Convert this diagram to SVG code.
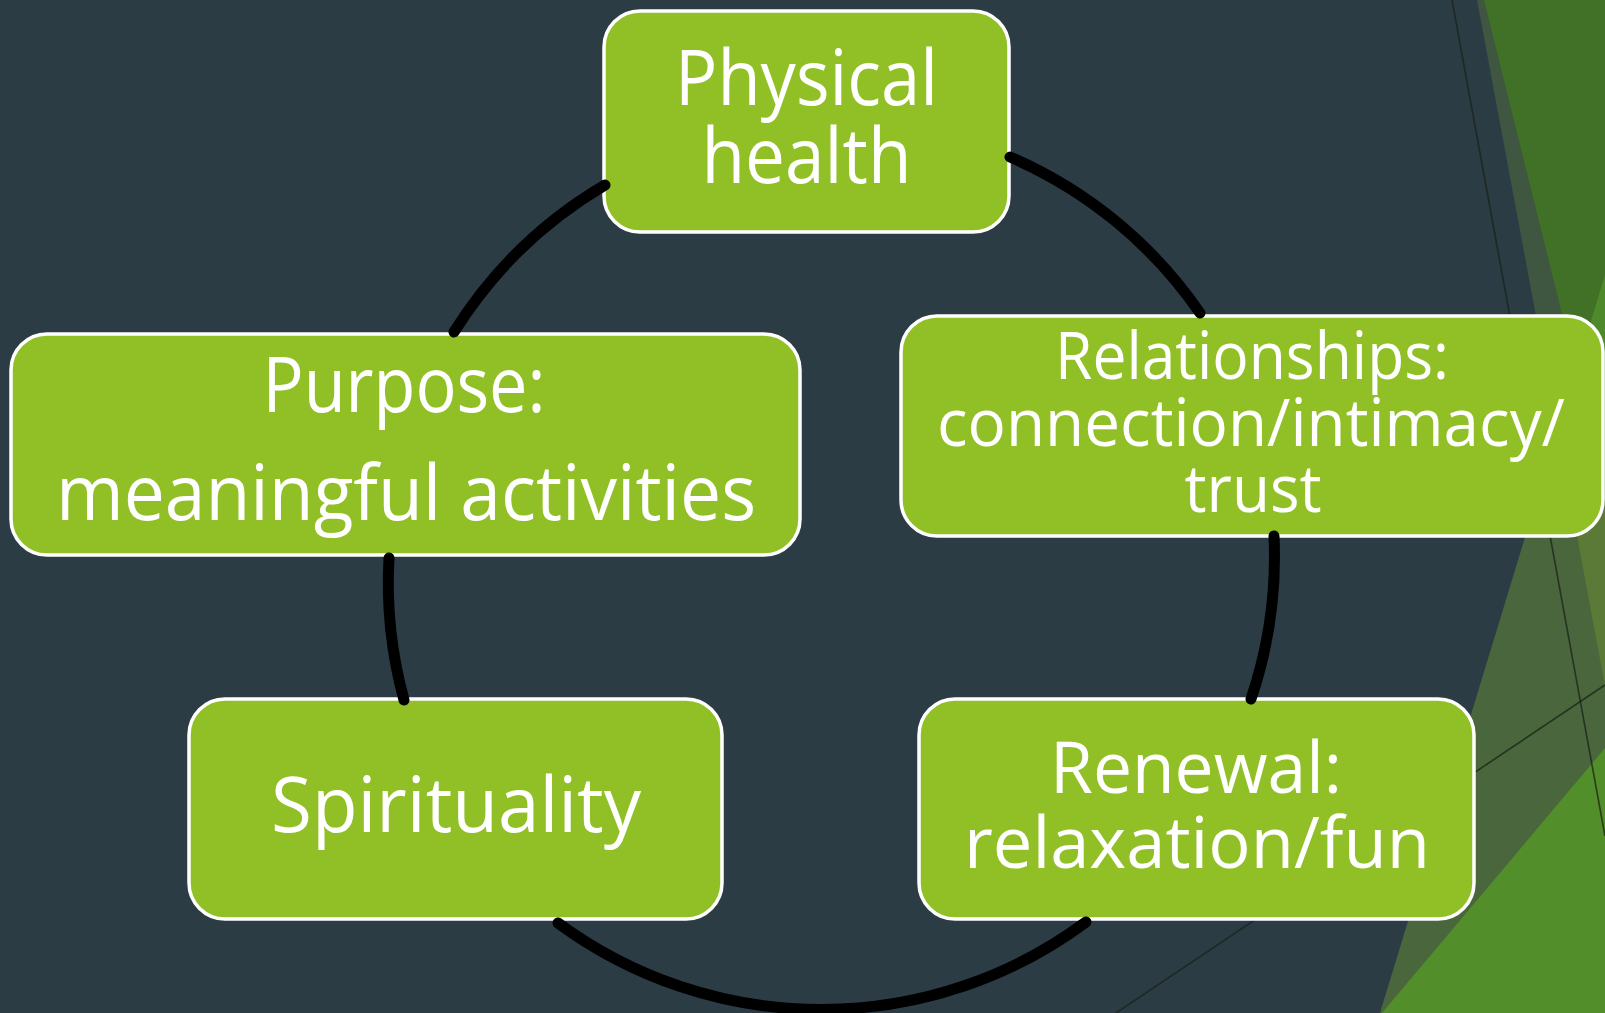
<svg xmlns="http://www.w3.org/2000/svg" width="1605" height="1013" viewBox="0 0 1605 1013">
  <style>
    .box { fill: #91c026; stroke: #ffffff; stroke-width: 3.5; }
    .lbl { fill: #ffffff; font-family: "Open Sans", "Liberation Sans", sans-serif; text-anchor: middle; }
    .arc { fill: none; stroke: #000000; stroke-width: 11; stroke-linecap: round; }
    .rule { stroke: #1a2218; stroke-width: 1.6; stroke-opacity: 0.75; fill: none; }
  </style>

  <!-- background -->
  <rect x="0" y="0" width="1605" height="1013" fill="#2c3c45"/>

  <!-- facet decoration on the right edge -->
  <g id="facets">
    <polygon points="1477,0 1605,0 1605,686" fill="#3f5641"/>
    <polygon points="1380,1013 1605,275 1605,1013" fill="#4a663c"/>
    <polygon points="1605,275 1557.5,431 1605,686" fill="#5b7a38"/>
    <polygon points="1484,0 1605,0 1605,487" fill="#417027"/>
    <polygon points="1605,275 1576,370 1605,487" fill="#4e8a2c"/>
    <polygon points="1382,1013 1605,748 1605,1013" fill="#528e2a"/>
    <line class="rule" x1="1452" y1="0" x2="1605" y2="836"/>
    <line class="rule" x1="1116" y1="1013" x2="1605" y2="685"/>
  </g>

  <g id="node-physical">
    <rect class="box" x="604" y="11" width="405" height="221" rx="36"/>
    <text class="lbl" font-size="76" x="806.5" y="105" textLength="263" lengthAdjust="spacingAndGlyphs">Physical</text>
    <text class="lbl" font-size="76" x="806.5" y="183" textLength="210" lengthAdjust="spacingAndGlyphs">health</text>
  </g>

  <g id="node-relationships">
    <rect class="box" x="901" y="316" width="702" height="220" rx="36"/>
    <text class="lbl" font-size="65" x="1252" y="379" textLength="394" lengthAdjust="spacingAndGlyphs">Relationships:</text>
    <text class="lbl" font-size="65" x="1251" y="446" textLength="628" lengthAdjust="spacingAndGlyphs">connection/intimacy/</text>
    <text class="lbl" font-size="65" x="1253" y="512" textLength="137" lengthAdjust="spacingAndGlyphs">trust</text>
  </g>

  <g id="node-renewal">
    <rect class="box" x="919" y="699" width="555" height="220" rx="36"/>
    <text class="lbl" font-size="71" x="1196" y="793" textLength="292" lengthAdjust="spacingAndGlyphs">Renewal:</text>
    <text class="lbl" font-size="71" x="1197" y="868" textLength="466" lengthAdjust="spacingAndGlyphs">relaxation/fun</text>
  </g>

  <g id="node-spirituality">
    <rect class="box" x="189" y="699" width="533" height="220" rx="36"/>
    <text class="lbl" font-size="76" x="456" y="832" textLength="370" lengthAdjust="spacingAndGlyphs">Spirituality</text>
  </g>

  <g id="node-purpose">
    <rect class="box" x="11" y="334" width="789" height="221" rx="36"/>
    <text class="lbl" font-size="76" x="404" y="412" textLength="283" lengthAdjust="spacingAndGlyphs">Purpose:</text>
    <text class="lbl" font-size="76" x="406" y="520" textLength="700" lengthAdjust="spacingAndGlyphs">meaningful activities</text>
  </g>

  <!-- cycle connectors: arcs of one circle, capped on the node borders -->
  <g id="connectors">
    <path class="arc" d="M1010,157 A444,444 0 0 1 1200,313"/>
    <path class="arc" d="M1274,536 A444,444 0 0 1 1251,699"/>
    <path class="arc" d="M1086,922 A444,444 0 0 1 558,923"/>
    <path class="arc" d="M404,700 A444,444 0 0 1 389,558"/>
    <path class="arc" d="M454,332 A444,444 0 0 1 605,185"/>
  </g>
</svg>
